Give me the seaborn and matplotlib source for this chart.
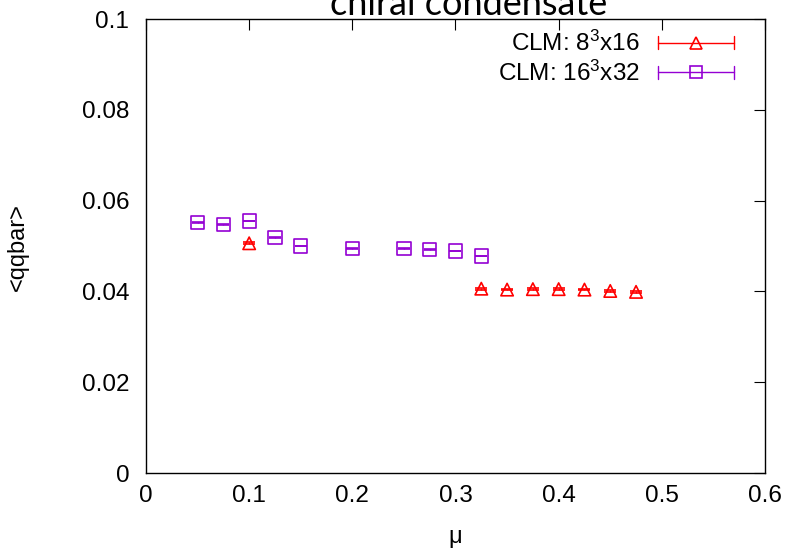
import numpy as np
import pandas as pd
import matplotlib
matplotlib.use("Agg")
import matplotlib.pyplot as plt
import seaborn as sns
from matplotlib.lines import Line2D
from matplotlib.legend_handler import HandlerBase

# ---- data ----
mu_8 = [0.1, 0.325, 0.35, 0.375, 0.4, 0.425, 0.45, 0.475]
qq_8 = [0.0506, 0.0406, 0.0404, 0.0405, 0.0405, 0.0404, 0.0401, 0.0399]
err_8 = [0.0002, 0.0002, 0.0002, 0.0002, 0.0002, 0.0002, 0.0002, 0.0002]

mu_16 = [0.05, 0.075, 0.1, 0.125, 0.15, 0.2, 0.25, 0.275, 0.3, 0.325]
qq_16 = [0.0552, 0.0547, 0.0555, 0.0519, 0.0500, 0.0495, 0.0495, 0.0493, 0.0489, 0.0478]
err_16 = [0.0001, 0.0001, 0.0001, 0.0001, 0.0001, 0.0001, 0.0001, 0.0001, 0.0001, 0.0001]

labels = ["CLM: $\\mathregular{8^3}$x16", "CLM: $\\mathregular{16^3}$x32"]
colors = ["#ff0000", "#9400d3"]
xticks = [0, 0.1, 0.2, 0.3, 0.4, 0.5, 0.6]
yticks = [0, 0.02, 0.04, 0.06, 0.08, 0.1]
ytick_labels = ["0", "0.02", "0.04", "0.06", "0.08", "0.1"]
xtick_labels = ["0", "0.1", "0.2", "0.3", "0.4", "0.5", "0.6"]

sns.set_style("white")
plt.rcParams["font.family"] = ["Liberation Sans", "DejaVu Sans"]
plt.rcParams["mathtext.fontset"] = "custom"
plt.rcParams["mathtext.rm"] = "Liberation Sans"
plt.rcParams["text.color"] = "black"
plt.rcParams["xtick.color"] = "black"
plt.rcParams["ytick.color"] = "black"

FS = 17.5

fig = plt.figure(figsize=(7.87, 5.5), dpi=100)
ax = fig.add_axes([146 / 787, 1 - 473 / 550, (765 - 146) / 787, (473 - 19) / 550])

df8 = pd.DataFrame({"mu": mu_8, "qq": qq_8, "err": err_8})
df16 = pd.DataFrame({"mu": mu_16, "qq": qq_16, "err": err_16})

series = [(df8, "^", 80, colors[0]), (df16, "s", 90, colors[1])]
handles = []
for (df, mk, sz, col) in series:
    ax.errorbar(df["mu"], df["qq"], yerr=df["err"], fmt="none", ecolor=col,
                elinewidth=1.0, capsize=4.5, capthick=1.2)
    sns.scatterplot(data=df, x="mu", y="qq", marker=mk, s=sz, color=col, ax=ax,
                    linewidth=1.2, legend=False)
    coll = ax.collections[-1]
    coll.set_facecolor("none")
    coll.set_edgecolor(col)
    handles.append(Line2D([], [], color=col, marker=mk))


class ErrHandler(HandlerBase):
    def create_artists(self, legend, orig_handle, xdescent, ydescent, width,
                       height, fontsize, trans):
        col = orig_handle.get_color()
        mk = orig_handle.get_marker()
        y = height / 2 - ydescent
        x0 = -xdescent
        x1 = width - xdescent
        h = 4.5
        arts = [
            Line2D([x0, x1], [y, y], color=col, lw=1.0),
            Line2D([x0, x0], [y - h, y + h], color=col, lw=1.0),
            Line2D([x1, x1], [y - h, y + h], color=col, lw=1.0),
            Line2D([(x0 + x1) / 2], [y], marker=mk, markersize=9,
                   markerfacecolor="none", markeredgecolor=col, mew=1.2,
                   linestyle="none"),
        ]
        for a in arts:
            a.set_transform(trans)
        return arts


leg = ax.legend(handles, labels, handler_map={Line2D: ErrHandler()},
                loc="upper right", bbox_to_anchor=(734 / 787, 1 - 31 / 550),
                bbox_transform=fig.transFigure, frameon=False, markerfirst=False,
                fontsize=FS, handlelength=54.7 / FS, handletextpad=13.0 / FS,
                labelspacing=0.18, borderpad=0, borderaxespad=0)

ax.set_xlim(0, 0.6)
ax.set_ylim(0, 0.1)
ax.set_xticks(xticks)
ax.set_xticklabels(xtick_labels)
ax.set_yticks(yticks)
ax.set_yticklabels(ytick_labels)
ax.tick_params(axis="both", direction="in", length=8, width=0.8, color="black",
               labelcolor="black", labelsize=FS, top=True, right=True)
ax.tick_params(axis="x", pad=9)
ax.tick_params(axis="y", pad=12)
for s in ax.spines.values():
    s.set_visible(True)
    s.set_color("black")
    s.set_linewidth(1.0)

ax.set_xlabel("")
ax.set_ylabel("")
fig.text(18 / 787, 1 - 247 / 550, "<qqbar>", rotation=90, ha="center",
         va="center", fontsize=17)
fig.text(455 / 787, 1 - 537 / 550, "\u03bc", ha="center", va="center",
         fontsize=17)
fig.text(469 / 787, 1 - 15 / 550, "chiral condensate", ha="center",
         va="baseline", fontsize=26, family=["Lato", "DejaVu Sans"])

fig.savefig("out.png", dpi=100)
